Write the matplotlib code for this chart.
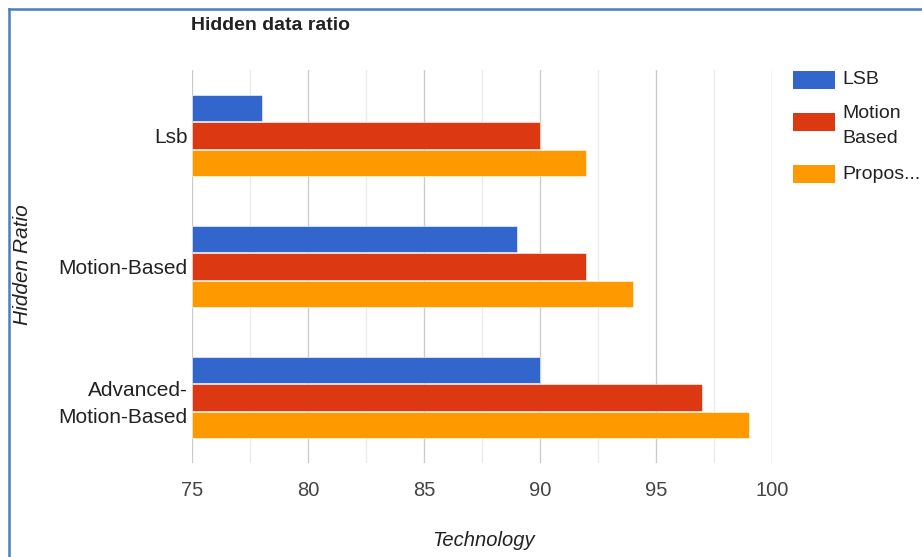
import matplotlib
matplotlib.use("Agg")
import matplotlib.pyplot as plt
from matplotlib.patches import Rectangle
from matplotlib.lines import Line2D
import numpy as np

# Chart data
categories = ["Lsb", "Motion-Based", "Advanced-\nMotion-Based"]
series_names = ["LSB", "Motion\nBased", "Propos..."]
lsb = [78, 89, 90]
motion_based = [90, 92, 97]
proposed = [92, 94, 99]
series_colors = ["#3366cc", "#dc3912", "#ff9900"]
x_ticks = [75, 80, 85, 90, 95, 100]

W, H = 922, 557
plt.rcParams["font.family"] = ["Liberation Sans", "DejaVu Sans"]
fig = plt.figure(figsize=(W / 100, H / 100), dpi=100)

def fx(px):
    return px / W

def fy(py):
    return 1 - py / H

# plot area in pixel terms
L, R, T, B = 192, 772, 70, 463
ax = fig.add_axes([fx(L), fy(B), fx(R) - fx(L), fy(T) - fy(B)])

series = [lsb, motion_based, proposed]
y = np.arange(len(categories))
step = 0.21
bar_h = 0.2
for i, (vals, col) in enumerate(zip(series, series_colors)):
    ax.barh(y + (i - 1) * step, np.array(vals) - 75, left=75, height=bar_h,
            color=col, edgecolor="white", linewidth=0.4, zorder=3)

ax.set_xlim(75, 100)
ax.set_ylim(2.5, -0.5)

# gridlines: major every 5, minor halfway
for v in np.arange(77.5, 100, 5):
    ax.axvline(v, color="#ebebeb", linewidth=1, zorder=1)
for v in x_ticks:
    ax.axvline(v, color="#cccccc", linewidth=1, zorder=2)

ax.set_xticks(x_ticks)
ax.set_xticklabels([str(t) for t in x_ticks], fontsize=14.5, color="#444444")
ax.set_yticks(y)
ax.set_yticklabels(categories, fontsize=15, color="#222222", linespacing=1.55)
ax.tick_params(axis="both", length=0)
ax.tick_params(axis="x", pad=13)
ax.tick_params(axis="y", pad=3)
for s in ax.spines.values():
    s.set_visible(False)

# titles
fig.text(fx(191), fy(26), "Hidden data ratio", fontsize=14, fontweight="bold",
         color="#222222", ha="left", va="center")
fig.text(fx(483), fy(540), "Technology", fontsize=14.5, style="italic",
         color="#222222", ha="center", va="center")
fig.text(fx(22), fy(265), "Hidden Ratio", fontsize=15, style="italic",
         color="#222222", ha="center", va="center", rotation=90)

# legend
legend_rows = [(71, 80), (113, 126), (165, 175)]
for (top, text_y), name, col in zip(legend_rows, series_names, series_colors):
    fig.add_artist(Rectangle((fx(793), fy(top + 18)), fx(835) - fx(793),
                             fy(top) - fy(top + 18), transform=fig.transFigure,
                             facecolor=col, edgecolor="none"))
    fig.text(fx(842), fy(text_y), name, fontsize=14, color="#222222",
             ha="left", va="center", linespacing=1.65)

# frame around the chart
fig.add_artist(Line2D([fx(9), fx(9)], [fy(9), 0], transform=fig.transFigure,
                      color="#4a7ebb", linewidth=1.8))
fig.add_artist(Line2D([fx(9), 1], [fy(9), fy(9)], transform=fig.transFigure,
                      color="#4a7ebb", linewidth=1.8))

fig.savefig("out.png", dpi=100, facecolor="white")
